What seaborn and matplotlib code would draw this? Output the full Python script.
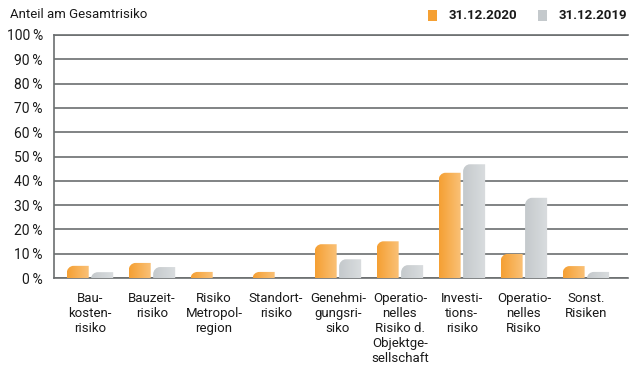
import numpy as np
import pandas as pd
import matplotlib
matplotlib.use("Agg")
import matplotlib.pyplot as plt
import seaborn as sns
from matplotlib.path import Path
from matplotlib.patches import PathPatch, Rectangle
from matplotlib.colors import LinearSegmentedColormap

# ── Data ──────────────────────────────────────────────────────────────────────
categories = [
    "Bau-\nkosten-\nrisiko",
    "Bauzeit-\nrisiko",
    "Risiko\nMetropol-\nregion",
    "Standort-\nrisiko",
    "Genehmi-\ngungsri-\nsiko",
    "Operatio-\nnelles\nRisiko d.\nObjektge-\nsellschaft",
    "Investi-\ntions-\nrisiko",
    "Operatio-\nnelles\nRisiko",
    "Sonst.\nRisiken",
]
series = ["31.12.2020", "31.12.2019"]
share_2020 = [5.0, 6.2, 2.5, 2.5, 13.9, 15.1, 43.3, 9.9, 4.9]
share_2019 = [2.4, 4.5, 0.0, 0.0, 7.7, 5.3, 46.8, 33.0, 2.5]
y_ticks = list(range(0, 101, 10))
y_label = "Anteil am Gesamtrisiko"

df = pd.DataFrame({
    "Kategorie": categories * 2,
    "Stichtag": [series[0]] * len(categories) + [series[1]] * len(categories),
    "Anteil": share_2020 + share_2019,
})

# ── Style ─────────────────────────────────────────────────────────────────────
sns.set_style("white")
plt.rcParams["font.family"] = ["Roboto", "DejaVu Sans"]
GRID = "#6b6e70"
TEXT = "#1a1a1a"
ORANGE = ("#f5a033", "#fac27a")
GREY = ("#c4c9cc", "#dadddf")
gradients = [ORANGE, GREY]

fig = plt.figure(figsize=(6.36, 3.69), dpi=100)
ax = fig.add_axes([54 / 636, 1 - 278 / 369, (628 - 54) / 636, (278 - 35) / 369])

sns.barplot(data=df, x="Kategorie", y="Anteil", hue="Stichtag",
            hue_order=series, palette=[ORANGE[0], GREY[0]], saturation=1,
            width=0.79, gap=0.1, legend=False, ax=ax, zorder=3)


def top_left_rounded(x, y, w, h, rx, ry):
    """Bar outline with a rounded top-left corner (data coords)."""
    rx, ry = min(rx, w), min(ry, h)
    k = 0.5523
    verts = [(x, y), (x + w, y), (x + w, y + h), (x + rx, y + h),
             (x + rx - k * rx, y + h), (x, y + h - ry + k * ry), (x, y + h - ry),
             (x, y), (x, y)]
    codes = [Path.MOVETO, Path.LINETO, Path.LINETO, Path.LINETO,
             Path.CURVE4, Path.CURVE4, Path.CURVE4, Path.LINETO, Path.CLOSEPOLY]
    return Path(verts, codes)


# replace flat bars with gradient bars (one container per Stichtag)
grad = np.linspace(0, 1, 64).reshape(1, -1)
for container, pair in zip(ax.containers, gradients):
    cmap = LinearSegmentedColormap.from_list("g", list(pair))
    for bar in container:
        x, y, w, h = bar.get_x(), bar.get_y(), bar.get_width(), bar.get_height()
        bar.set_visible(False)
        if h <= 0:
            continue
        clip = PathPatch(top_left_rounded(x, y, w, h, 0.11, 3.0),
                         facecolor="none", edgecolor="none")
        ax.add_patch(clip)
        im = ax.imshow(grad, cmap=cmap, extent=[x, x + w, y, y + h],
                       aspect="auto", interpolation="bilinear", zorder=3)
        im.set_clip_path(clip)

ax.set_xlim(-0.58, 8.68)
ax.set_ylim(0, 100)
ax.set_aspect("auto")

# ── Axes ──────────────────────────────────────────────────────────────────────
ax.set_yticks(y_ticks)
ax.set_yticklabels([f"{t}\u202f%" for t in y_ticks], fontsize=10, color=TEXT)
ax.tick_params(axis="y", length=0, pad=8)
ax.tick_params(axis="x", length=5, width=1, color=GRID, direction="out",
               pad=5, labelsize=9.5, labelcolor=TEXT)
for lbl in ax.get_xticklabels():
    lbl.set_linespacing(1.2)
    lbl.set_ha("center")
ax.set_xlabel("")
ax.set_ylabel("")

ax.grid(axis="y", color=GRID, linewidth=1.2, zorder=0)
ax.set_axisbelow(True)
for side in ["left", "bottom", "top"]:
    ax.spines[side].set_color(GRID)
    ax.spines[side].set_linewidth(1.2)
ax.spines["right"].set_visible(False)

# ── Header: title and legend ──────────────────────────────────────────────────
fig.text(10 / 636, 1 - 15 / 369, y_label, fontsize=9.5, color=TEXT,
         va="center", ha="left")
for (px, pair, name) in [(428, ORANGE, series[0]), (538, GREY, series[1])]:
    fig.patches.append(Rectangle((px / 636, 1 - 21 / 369), 9 / 636, 11 / 369,
                                 transform=fig.transFigure, facecolor=pair[0],
                                 edgecolor="none"))
    fig.text((px + 21) / 636, 1 - 15.5 / 369, name, fontsize=9.5,
             fontweight="bold", color=TEXT, va="center", ha="left")

fig.savefig("out.png", dpi=100)
